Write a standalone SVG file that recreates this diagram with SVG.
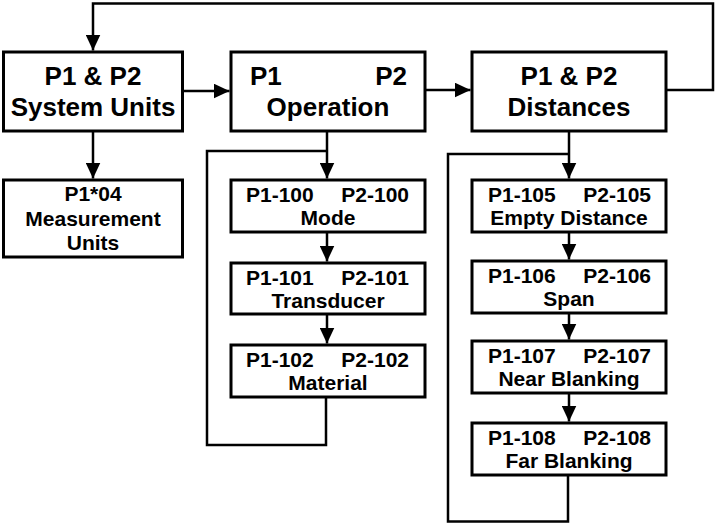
<svg xmlns="http://www.w3.org/2000/svg" width="715" height="524" viewBox="0 0 715 524">
  <defs>
    <marker id="arr" viewBox="0 0 16 15" refX="16" refY="7.5" markerWidth="16" markerHeight="15" markerUnits="userSpaceOnUse" orient="auto">
      <path d="M0,0 L16,7.5 L0,15 z" fill="#000"/>
    </marker>
  </defs>
  <style>
    .box { fill: #fff; stroke: #000; stroke-width: 3; }
    .big { font-family: "Liberation Sans", Arial, sans-serif; font-weight: bold; font-size: 26px; fill: #000; }
    .sm { font-family: "Liberation Sans", Arial, sans-serif; font-weight: bold; font-size: 21px; fill: #000; }
    .c { text-anchor: middle; }
    .e { text-anchor: end; }
    .ln { fill: none; stroke: #000; stroke-width: 2.5; }
    .ar { marker-end: url(#arr); }
  </style>
  <rect width="715" height="524" fill="#fff"/>

  <g id="connectors">
    <path class="ln ar" d="M666,90 H713 V3.5 H93 V50.5"/>
    <path class="ln ar" d="M183,91 H229.5"/>
    <path class="ln ar" d="M425,90 H470.5"/>
    <path class="ln ar" d="M93,131 V178.5"/>
    <path class="ln ar" d="M327,131 V178.5"/>
    <path class="ln" d="M326,397 V445 H207 V151 H327"/>
    <path class="ln ar" d="M327,232 V261.5"/>
    <path class="ln ar" d="M327,314 V343.5"/>
    <path class="ln ar" d="M569,131 V178.5"/>
    <path class="ln" d="M568,475 V521.5 H448 V154 H569"/>
    <path class="ln ar" d="M569,232 V259.5"/>
    <path class="ln ar" d="M569,313 V339.5"/>
    <path class="ln ar" d="M569,393 V421.5"/>
  </g>

  <g id="system-units">
    <rect class="box" x="3.5" y="52" width="179" height="79"/>
    <text class="big c" x="93" y="85">P1 &amp; P2</text>
    <text class="big c" x="93" y="116">System Units</text>
  </g>
  <g id="operation">
    <rect class="box" x="231" y="52" width="194" height="79"/>
    <text class="big" x="250" y="85">P1</text>
    <text class="big e" x="407" y="85">P2</text>
    <text class="big c" x="328" y="116">Operation</text>
  </g>
  <g id="distances">
    <rect class="box" x="472" y="52" width="194" height="79"/>
    <text class="big c" x="569" y="85">P1 &amp; P2</text>
    <text class="big c" x="569" y="116">Distances</text>
  </g>

  <g id="measurement-units">
    <rect class="box" x="3.5" y="180" width="179" height="77"/>
    <text class="sm c" x="93" y="201">P1*04</text>
    <text class="sm c" x="93" y="226">Measurement</text>
    <text class="sm c" x="93" y="250">Units</text>
  </g>

  <g id="mode">
    <rect class="box" x="231" y="180" width="194" height="52"/>
    <text class="sm" x="246" y="202">P1-100</text>
    <text class="sm e" x="409" y="202">P2-100</text>
    <text class="sm c" x="328" y="225">Mode</text>
  </g>
  <g id="transducer">
    <rect class="box" x="231" y="263" width="194" height="51"/>
    <text class="sm" x="246" y="285">P1-101</text>
    <text class="sm e" x="409" y="285">P2-101</text>
    <text class="sm c" x="328" y="308">Transducer</text>
  </g>
  <g id="material">
    <rect class="box" x="231" y="345" width="194" height="52"/>
    <text class="sm" x="246" y="367">P1-102</text>
    <text class="sm e" x="409" y="367">P2-102</text>
    <text class="sm c" x="328" y="390">Material</text>
  </g>

  <g id="empty-distance">
    <rect class="box" x="472" y="180" width="194" height="52"/>
    <text class="sm" x="488" y="202">P1-105</text>
    <text class="sm e" x="651" y="202">P2-105</text>
    <text class="sm c" x="569" y="225">Empty Distance</text>
  </g>
  <g id="span">
    <rect class="box" x="472" y="261" width="194" height="52"/>
    <text class="sm" x="488" y="283">P1-106</text>
    <text class="sm e" x="651" y="283">P2-106</text>
    <text class="sm c" x="569" y="306">Span</text>
  </g>
  <g id="near-blanking">
    <rect class="box" x="472" y="341" width="194" height="52"/>
    <text class="sm" x="488" y="363">P1-107</text>
    <text class="sm e" x="651" y="363">P2-107</text>
    <text class="sm c" x="569" y="386">Near Blanking</text>
  </g>
  <g id="far-blanking">
    <rect class="box" x="472" y="423" width="194" height="52"/>
    <text class="sm" x="488" y="445">P1-108</text>
    <text class="sm e" x="651" y="445">P2-108</text>
    <text class="sm c" x="569" y="468">Far Blanking</text>
  </g>
</svg>
